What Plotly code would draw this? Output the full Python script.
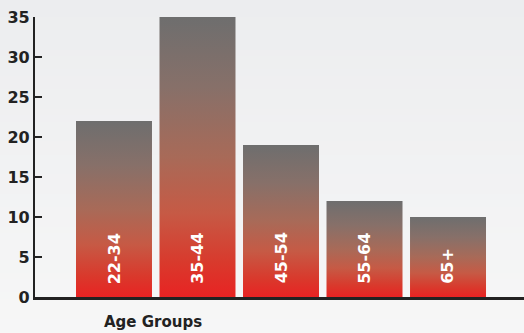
import base64, struct, zlib
import plotly.graph_objects as go

categories = ["22-34", "35-44", "45-54", "55-64", "65+"]
values = [22, 35, 19, 12, 10]
y_ticks = [0, 5, 10, 15, 20, 25, 30, 35]
x_title = "Age Groups"

BAR_W = 0.91
bar_scale = [[0.0, "#e82323"], [0.12, "#d9392c"], [0.3, "#c65a45"],
             [0.5, "#a86a58"], [0.75, "#877069"], [1.0, "#6e6e6e"]]


def gradient_png(top, bottom, h=64):
    rows = b""
    for i in range(h):
        t = i / (h - 1)
        c = [round(top[k] + (bottom[k] - top[k]) * t) for k in range(3)]
        rows += b"\x00" + bytes(c)
    def chunk(tag, data):
        return struct.pack(">I", len(data)) + tag + data + struct.pack(">I", zlib.crc32(tag + data) & 0xffffffff)
    png = b"\x89PNG\r\n\x1a\n" + chunk(b"IHDR", struct.pack(">IIBBBBB", 1, h, 8, 2, 0, 0, 0)) \
        + chunk(b"IDAT", zlib.compress(rows)) + chunk(b"IEND", b"")
    return "data:image/png;base64," + base64.b64encode(png).decode()


fig = go.Figure()
for i, (cat, v) in enumerate(zip(categories, values)):
    x0, x1 = i - BAR_W / 2, i + BAR_W / 2
    fig.add_trace(go.Scatter(
        x=[x0, x0, x1, x1, x0], y=[0, v, v, 0, 0],
        mode="lines", line=dict(width=0), fill="toself",
        fillgradient=dict(type="vertical", colorscale=bar_scale),
        hoverinfo="skip", showlegend=False))
    fig.add_annotation(x=i, y=1.4, text=cat, textangle=-90, showarrow=False,
                       xanchor="center", yanchor="bottom",
                       font=dict(family="DejaVu Sans", size=16, color="white", weight="bold"))

fig.add_annotation(x=0.241, y=-0.089, xref="paper", yref="paper", text=x_title,
                   showarrow=False, xanchor="center", yanchor="middle",
                   font=dict(family="DejaVu Sans", size=15, color="#222222", weight="bold"))

fig.add_layout_image(dict(source=gradient_png((235, 236, 238), (248, 248, 248)),
                          xref="paper", yref="paper", x=-0.2, y=1.2, sizex=1.4, sizey=1.5,
                          sizing="stretch", layer="below", xanchor="left", yanchor="top"))

fig.update_layout(
    width=524, height=333,
    margin=dict(l=35, r=0, t=17, b=36),
    paper_bgcolor="#f1f1f2", plot_bgcolor="rgba(0,0,0,0)",
    xaxis=dict(range=[-0.946, 4.91], showgrid=False, zeroline=False, showticklabels=False,
               ticks="", showline=True, linecolor="#222222", linewidth=2.5, fixedrange=True),
    yaxis=dict(range=[0, 35], tickvals=y_ticks, showgrid=False, zeroline=False,
               ticks="inside", ticklen=7, tickwidth=2, tickcolor="#222222",
               showline=True, linecolor="#222222", linewidth=2.3,
               tickfont=dict(family="DejaVu Sans", size=16, color="#222222", weight="bold")),
)

fig.write_html("out.html")
